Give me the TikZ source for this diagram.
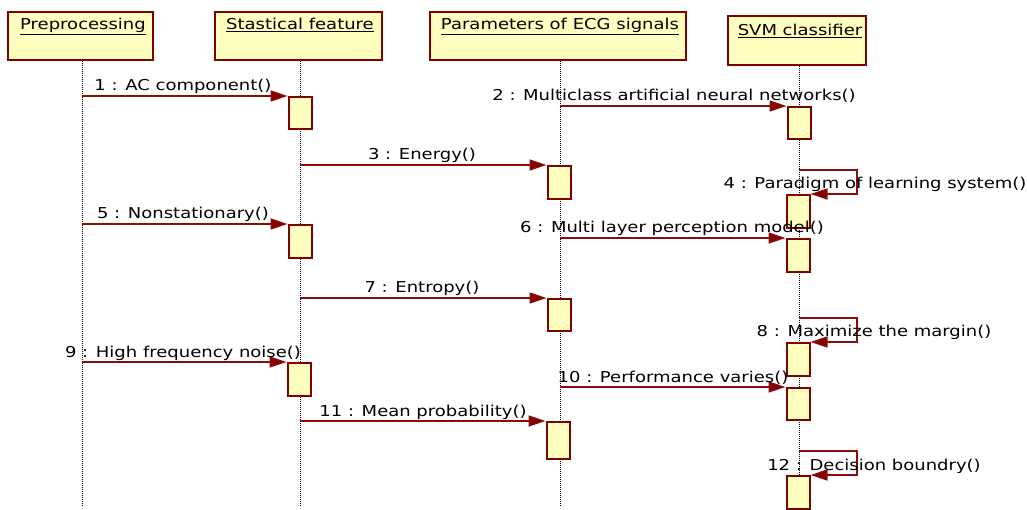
\documentclass[tikz,border=0pt]{standalone}
\usepackage{fontspec}
\setmainfont{DejaVu Sans}
\usetikzlibrary{arrows.meta}
\definecolor{boxfill}{RGB}{255,255,192}
\definecolor{darkred}{RGB}{128,0,0}
\definecolor{msgred}{RGB}{140,10,10}
\newcommand{\wtxt}[1]{\scalebox{1.2}[1.0]{#1}}
\begin{document}
\begin{tikzpicture}[x=1pt,y=-1pt,
  headbox/.style={draw=darkred, fill=boxfill, line width=2pt, inner sep=0pt},
  headtxt/.style={font=\fontsize{15}{17}\selectfont, inner sep=0pt, anchor=base},
  actbox/.style={draw=darkred, fill=boxfill, line width=2pt, minimum width=23pt, inner sep=0pt, anchor=north},
  msg/.style={draw=msgred, line width=1.5pt, -{Triangle[length=17pt,width=11pt,fill=darkred]}},
  lbl/.style={font=\fontsize{15}{17}\selectfont, inner sep=0pt, anchor=base},
  life/.style={densely dotted, line width=1pt}]
\useasboundingbox (0,0) rectangle (1027,510);
% header boxes
\node[headbox, minimum width=145pt, minimum height=48pt] (pre) at (80.5,36) {};
\node[headbox, minimum width=167pt, minimum height=48pt] (stat) at (298.5,36) {};
\node[headbox, minimum width=256pt, minimum height=48pt] (par) at (558,36) {};
\node[headbox, minimum width=138pt, minimum height=49pt] (svm) at (797,40.5) {};
\node[headtxt] (pret) at (83,30) {\wtxt{\underline{Preprocessing}}};
\node[headtxt] (statt) at (300,30) {\wtxt{\underline{Stastical feature}}};
\node[headtxt] (part) at (560,30) {\wtxt{\underline{Parameters of ECG signals}}};
\node[headtxt] (svmt) at (800,36) {\wtxt{\underline{SVM classifier}}};
% lifelines
\coordinate (preend) at (82,506);
\coordinate (statend) at (300,506);
\coordinate (parend) at (560,506);
\coordinate (svmend) at (799,510);
\draw[life] (82,61) -- (preend);
\draw[life] (300,61) -- (statend);
\draw[life] (560,61) -- (parend);
\draw[life] (799,66) -- (svmend);
% activation boxes
\node[actbox, minimum height=32pt] (a1) at (300,96) {};
\node[actbox, minimum height=32pt] (a2) at (799,106) {};
\node[actbox, minimum height=33pt] (a3) at (559,165) {};
\node[actbox, minimum height=33pt] (a4) at (798,194) {};
\node[actbox, minimum height=33pt] (a5) at (300,224) {};
\node[actbox, minimum height=33pt] (a6) at (798,238) {};
\node[actbox, minimum height=32pt] (a7) at (559,298) {};
\node[actbox, minimum height=33pt] (a8) at (798,342) {};
\node[actbox, minimum height=33pt] (a9) at (299,362) {};
\node[actbox, minimum height=32pt] (a10) at (798,387) {};
\node[actbox, minimum height=37pt] (a11) at (558,421) {};
\node[actbox, minimum height=33pt] (a12) at (798,475) {};
% message start points
\coordinate (s1) at (82,96);
\coordinate (s2) at (560,106);
\coordinate (s3) at (300,165);
\coordinate (s4) at (799,170);
\coordinate (s5) at (82,224);
\coordinate (s6) at (560,238);
\coordinate (s7) at (300,298);
\coordinate (s8) at (799,318);
\coordinate (s9) at (82,362);
\coordinate (s10) at (560,387);
\coordinate (s11) at (300,421);
\coordinate (s12) at (799,451);
% messages
\draw[msg] (s1) -- (a1.north west);
\draw[msg] (s2) -- (a2.north west);
\draw[msg] (s3) -- (a3.north west);
\draw[msg] (s4) -- (857,170) -- (857,194) -- (a4.north east);
\draw[msg] (s5) -- (a5.north west);
\draw[msg] (s6) -- (a6.north west);
\draw[msg] (s7) -- (a7.north west);
\draw[msg] (s8) -- (857,318) -- (857,342) -- (a8.north east);
\draw[msg] (s9) -- (a9.north west);
\draw[msg] (s10) -- (a10.north west);
\draw[msg] (s11) -- (a11.north west);
\draw[msg] (s12) -- (857,451) -- (857,475) -- (a12.north east);
% labels
\node[lbl] (l1) at (183,91) {\wtxt{1 : AC component()}};
\node[lbl] (l2) at (674,101) {\wtxt{2 : Multiclass artificial neural networks()}};
\node[lbl] (l3) at (422,160) {\wtxt{3 : Energy()}};
\node[lbl] (l4) at (875,189) {\wtxt{4 : Paradigm of learning system()}};
\node[lbl] (l5) at (183,219) {\wtxt{5 : Nonstationary()}};
\node[lbl] (l6) at (672,233) {\wtxt{6 : Multi layer perception model()}};
\node[lbl] (l7) at (422,293) {\wtxt{7 : Entropy()}};
\node[lbl] (l8) at (874,336) {\wtxt{8 : Maximize the margin()}};
\node[lbl] (l9) at (183,357) {\wtxt{9 : High frequency noise()}};
\node[lbl] (l10) at (673,382) {\wtxt{10 : Performance varies()}};
\node[lbl] (l11) at (423,416) {\wtxt{11 : Mean probability()}};
\node[lbl] (l12) at (874,470) {\wtxt{12 : Decision boundry()}};
\end{tikzpicture}
\end{document}
